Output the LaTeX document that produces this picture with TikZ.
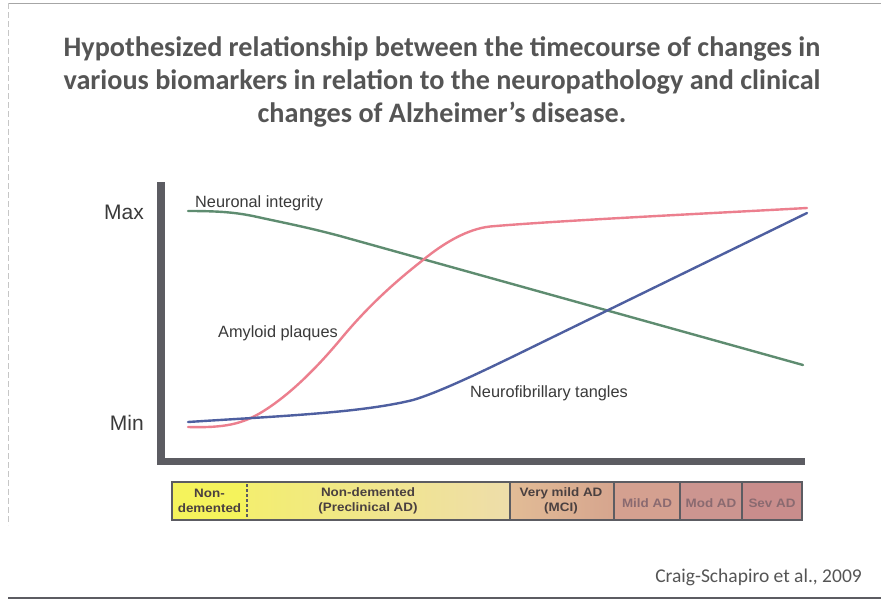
\documentclass[tikz,border=0pt]{standalone}
\usepackage{fontspec}
\setmainfont{Liberation Sans}
\newfontfamily\carlitofont{Carlito}
\newfontfamily\stagefont[FakeStretch=1.1]{Liberation Sans}
\definecolor{axisgray}{HTML}{5C5C62}
\definecolor{titlegray}{HTML}{555555}
\definecolor{ngreen}{HTML}{5E8C70}
\definecolor{apink}{HTML}{EC7F8E}
\definecolor{tblue}{HTML}{4E5FA0}
\definecolor{txtgray}{HTML}{3A3A3A}
\definecolor{sy1}{HTML}{F5F35C}
\definecolor{sy2}{HTML}{F3EE70}
\definecolor{sy3}{HTML}{EEDDAA}
\definecolor{st1}{HTML}{E2BC96}
\definecolor{st2}{HTML}{D6A58E}
\definecolor{sm1}{HTML}{D4A090}
\definecolor{sm2}{HTML}{CC9590}
\definecolor{sv1}{HTML}{C98D8C}
\definecolor{stagetxt}{HTML}{4A4040}
\definecolor{fadetxt}{HTML}{8A6A70}
\begin{document}
\begin{tikzpicture}[x=1pt,y=-1pt,
  curve/.style={line width=2.4pt,line cap=round,line join=round},
  axisbar/.style={fill=axisgray,draw=none},
  curvelabel/.style={font=\fontsize{16.3}{18}\selectfont,text=txtgray,inner sep=0pt},
  axlabel/.style={font=\fontsize{21}{23}\selectfont,text=txtgray,inner sep=0pt},
  stagelabel/.style={font=\stagefont\fontsize{12.2}{15}\selectfont\bfseries,text=stagetxt,align=center,inner sep=0pt},
  fadelabel/.style={font=\stagefont\fontsize{12.2}{15}\selectfont\bfseries,text=fadetxt,align=center,inner sep=0pt},
  sep/.style={draw=axisgray,line width=1.6pt}]
\useasboundingbox (0,0) rectangle (881,600);
\fill[white] (0,0) rectangle (881,600);
% frame
\draw[gray!70,line width=1pt] (8,3) -- (881,3);
\draw[gray!45,line width=0.8pt,dash pattern=on 6pt off 3pt] (8,3) -- (8,525);
\draw[axisgray,line width=1.5pt] (8,598) -- (881,598);
% title
\node[font=\carlitofont\bfseries\fontsize{28.2}{33}\selectfont,text=titlegray,align=center,inner sep=0pt] (title) at (442,82)
  {Hypothesized relationship between the timecourse of changes in\\
   various biomarkers in relation to the neuropathology and clinical\\
   changes of Alzheimer’s disease.};
% axes
\fill[axisbar] (157,182) rectangle (165,465);
\fill[axisbar] (157,458) rectangle (805,465);
\node[axlabel,anchor=east] (max) at (144,212) {Max};
\node[axlabel,anchor=east] (min) at (144,423) {Min};
% curves
\draw[curve,ngreen] (188,211) .. controls (225,211) and (240,213) .. (262,218)
  .. controls (290,224) and (310,228) .. (340,236) -- (803,365);
\draw[curve,apink] (188,427) .. controls (225,428) and (242,424) .. (262,412)
  .. controls (288,396) and (314,371) .. (340,340)
  .. controls (368,306) and (395,282) .. (423,260)
  .. controls (445,242) and (468,229) .. (490,226.5)
  .. controls (560,220.5) and (707,213.5) .. (807,208);
\draw[curve,tblue] (188,422) .. controls (280,416) and (360,413) .. (413,400)
  .. controls (440,392) and (485,370) .. (510,358) -- (807,213);
\node[curvelabel,anchor=west] (ni) at (195,203) {Neuronal integrity};
\node[curvelabel,anchor=west] (ap) at (218,333) {Amyloid plaques};
\node[curvelabel,anchor=west] (nt) at (470,393) {Neurofibrillary tangles};
% stage bar
\fill[sy1] (172,482) rectangle (247,520);
\shade[left color=sy2,right color=sy3] (247,482) rectangle (510,520);
\shade[left color=st1,right color=st2] (510,482) rectangle (614,520);
\fill[sm1] (614,482) rectangle (680,520);
\fill[sm2] (680,482) rectangle (742,520);
\fill[sv1] (742,482) rectangle (802,520);
\draw[axisgray,line width=2.6pt] (172,482) rectangle (802,520);
\draw[axisgray,line width=2.4pt,dash pattern=on 2.5pt off 2.5pt] (247,484) -- (247,519);
\draw[sep] (510,482) -- (510,520);
\draw[sep] (614,482) -- (614,520);
\draw[sep] (680,482) -- (680,520);
\draw[sep] (742,482) -- (742,520);
\node[stagelabel] (s1) at (209.5,501) {Non-\\demented};
\node[stagelabel] (s2) at (368,501) {Non-demented\\(Preclinical AD)};
\node[stagelabel] (s3) at (561,501) {Very mild AD\\(MCI)};
\node[fadelabel] (s4) at (647,503) {Mild AD};
\node[fadelabel] (s5) at (711,503) {Mod AD};
\node[fadelabel] (s6) at (772,503) {Sev AD};
% citation
\node[font=\carlitofont\fontsize{19.5}{21}\selectfont,text=titlegray,anchor=east,inner sep=0pt] (cite) at (862,577) {Craig-Schapiro et al., 2009};
\end{tikzpicture}
\end{document}
